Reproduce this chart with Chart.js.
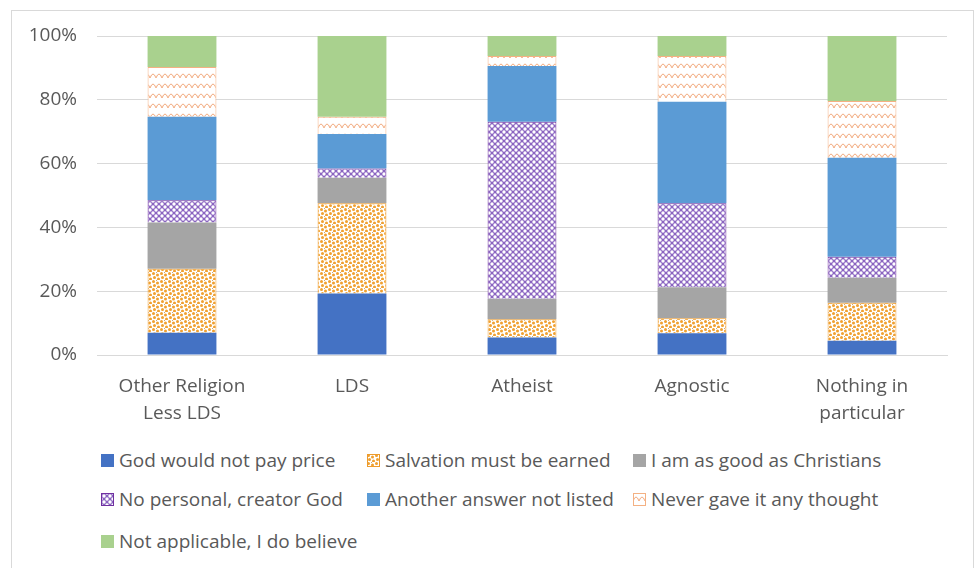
<!DOCTYPE html>
<html>
<head>
<meta charset="utf-8">
<script src="https://cdn.jsdelivr.net/npm/chart.js@4.4.0/dist/chart.umd.min.js"></script>
<style>
  html, body { margin: 0; padding: 0; background: #fff; }
  body { width: 976px; height: 568px; position: relative; overflow: hidden; font-family: 'Open Sans', sans-serif; }
  #frame { position: absolute; left: 11px; top: 10px; width: 963px; height: 600px; border: 1px solid #d9d9d9; box-sizing: border-box; }
  #wrap { position: absolute; left: 0; top: 0; width: 976px; height: 430px; }
  .item { position: absolute; height: 20px; display: flex; align-items: center; font-size: 19px; color: #595959; white-space: nowrap; }
  .item canvas { margin-right: 5px; }
</style>
</head>
<body>
<div id="frame"></div>
<div id="wrap"><canvas id="chart"></canvas></div>
<div id="legend"></div>
<script>
// categories and values (percent of each group)
const categories = [['Other Religion', 'Less LDS'], 'LDS', 'Atheist', 'Agnostic', ['Nothing in', 'particular']];
const seriesNames = [
    'God would not pay price',
    'Salvation must be earned',
    'I am as good as Christians',
    'No personal, creator God',
    'Another answer not listed',
    'Never gave it any thought',
    'Not applicable, I do believe'
];
const godWouldNotPay   = [7.0, 19.3, 5.5, 6.8, 4.5];
const salvationEarned  = [20.0, 28.3, 5.7, 4.7, 11.9];
const goodAsChristians = [14.5, 8.0, 6.4, 9.7, 7.8];
const noCreatorGod     = [7.0, 2.9, 55.5, 26.4, 6.6];
const anotherAnswer    = [26.2, 10.8, 17.5, 31.8, 31.0];
const neverThought     = [15.6, 5.4, 3.1, 14.3, 17.8];
const notApplicable    = [9.7, 25.3, 6.3, 6.3, 20.4];
const yTicks = [0, 20, 40, 60, 80, 100];

const textColor = '#595959';
const gridColor = '#d9d9d9';
const fontFamily = "'Open Sans', sans-serif";

function makePattern(w, h, draw) {
    const c = document.createElement('canvas');
    c.width = w; c.height = h;
    const g = c.getContext('2d');
    draw(g);
    return g.createPattern(c, 'repeat');
}

const dotsPattern = makePattern(8, 8, g => {
    g.fillStyle = '#fff'; g.fillRect(0, 0, 8, 8);
    g.fillStyle = '#f0a030';
    [[1.5, 1.5], [5.5, 3], [2.5, 5.5], [6.5, 7]].forEach(([x, y]) => {
        g.beginPath(); g.arc(x, y, 1.5, 0, Math.PI * 2); g.fill();
    });
    g.fillStyle = '#c9a77a';
    g.fillRect(4, 0, 1, 1);
});

const latticePattern = makePattern(6, 6, g => {
    g.fillStyle = '#8a64c0'; g.fillRect(0, 0, 6, 6);
    g.fillStyle = '#fff';
    [[3, 3], [0, 0], [6, 0], [0, 6], [6, 6]].forEach(([x, y]) => {
        g.beginPath(); g.arc(x, y, 1.7, 0, Math.PI * 2); g.fill();
    });
});

const wavePattern = makePattern(12, 10, g => {
    g.fillStyle = '#fff'; g.fillRect(0, 0, 12, 10);
    g.strokeStyle = '#f2aa7e'; g.lineWidth = 1;
    g.beginPath();
    g.moveTo(0, 8);
    g.quadraticCurveTo(3, 0, 6, 8);
    g.quadraticCurveTo(9, 0, 12, 8);
    g.stroke();
});

const fills = ['#4472c4', dotsPattern, '#a5a5a5', latticePattern, '#5b9bd5', wavePattern, '#a9d18e'];
const borders = ['#4472c4', '#ed9b2c', '#a5a5a5', '#7030a0', '#5b9bd5', '#f4b183', '#a9d18e'];
const seriesData = [godWouldNotPay, salvationEarned, goodAsChristians, noCreatorGod, anotherAnswer, neverThought, notApplicable];

const datasets = seriesNames.map((name, i) => ({
    label: name,
    data: seriesData[i],
    backgroundColor: fills[i],
    borderColor: borders[i],
    borderWidth: (i === 1 || i === 3 || i === 5) ? 1 : 0,
    barPercentage: 0.405,
    categoryPercentage: 1
}));

const chart = new Chart(document.getElementById('chart'), {
    type: 'bar',
    data: { labels: categories, datasets: datasets },
    options: {
        responsive: true,
        maintainAspectRatio: false,
        animation: false,
        layout: { padding: { left: 0, right: 29, top: 36, bottom: 0 } },
        plugins: {
            legend: { display: false },
            tooltip: { enabled: false }
        },
        scales: {
            x: {
                stacked: true,
                grid: { display: false },
                border: { color: gridColor },
                ticks: { color: textColor, font: { family: fontFamily, size: 19, lineHeight: 1.42 }, padding: 10, maxRotation: 0 },
                afterFit: s => { s.height = 75; }
            },
            y: {
                stacked: true,
                min: 0,
                max: 100,
                afterBuildTicks: s => { s.ticks = yTicks.map(v => ({ value: v })); },
                grid: { color: gridColor, drawTicks: false },
                border: { display: false },
                ticks: { color: textColor, font: { family: fontFamily, size: 19 }, padding: 20, callback: v => v + '%' },
                afterFit: s => { s.width = 97; }
            }
        }
    }
});

// legend laid out in three columns like the original
const legend = document.getElementById('legend');
const colX = [101, 367, 633];
const rowY = [450, 489, 531];
datasets.forEach((ds, i) => {
    const item = document.createElement('div');
    item.className = 'item';
    item.style.left = colX[i % 3] + 'px';
    item.style.top = rowY[Math.floor(i / 3)] + 'px';
    const sw = document.createElement('canvas');
    sw.width = 13; sw.height = 13;
    const g = sw.getContext('2d');
    g.fillStyle = ds.backgroundColor;
    g.fillRect(0, 0, 13, 13);
    if (ds.borderWidth) {
        g.strokeStyle = ds.borderColor;
        g.strokeRect(0.5, 0.5, 12, 12);
    }
    item.appendChild(sw);
    item.appendChild(document.createTextNode(ds.label));
    legend.appendChild(item);
});
</script>
</body>
</html>
